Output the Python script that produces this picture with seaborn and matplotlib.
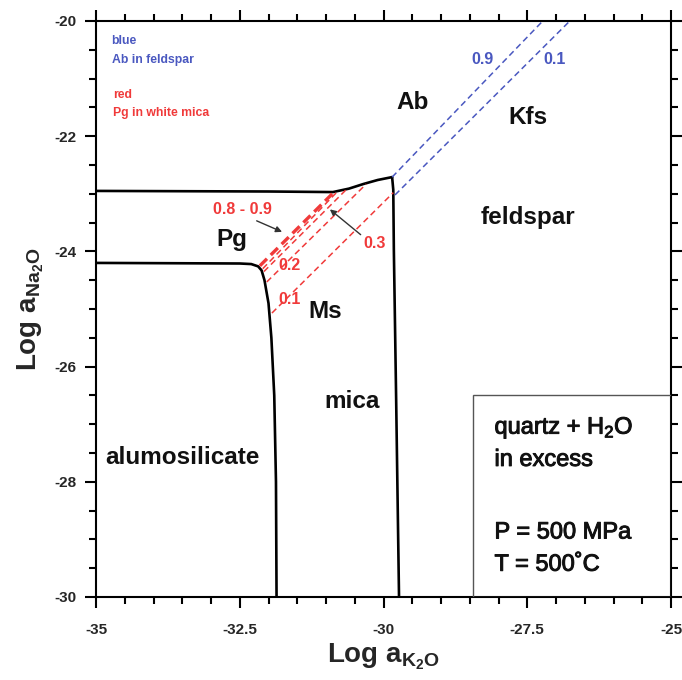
import matplotlib
matplotlib.use("Agg")
import matplotlib.pyplot as plt
import matplotlib.patheffects as pe
from matplotlib.ticker import MultipleLocator
from matplotlib.patches import Rectangle
import seaborn as sns
import pandas as pd

# Phase boundaries (log a_K2O, log a_Na2O)
pg_ab_x = [-35.0, -32.0, -30.88, -30.6, -30.35, -30.1, -29.85]
pg_ab_y = [-22.95, -22.96, -22.97, -22.91, -22.83, -22.76, -22.71]

ms_kfs_x = [-29.85, -29.83, -29.82, -29.78, -29.73]
ms_kfs_y = [-22.71, -22.93, -23.97, -26.57, -30.0]

als_pg_x = [-35.0, -32.5, -32.3, -32.18, -32.12, -32.07, -32.0, -31.95, -31.90, -31.87, -31.86]
als_pg_y = [-24.20, -24.21, -24.22, -24.26, -24.33, -24.50, -24.90, -25.50, -26.50, -28.00, -30.0]

# Pg-in-white-mica isopleths (start, end)
red_labels = ["0.9", "0.8", "0.3", "0.2", "0.1"]
red_x0 = [-32.15, -32.10, -32.08, -32.03, -31.94]
red_y0 = [-24.25, -24.30, -24.35, -24.53, -25.07]
red_x1 = [-30.86, -30.80, -30.63, -30.30, -29.83]
red_y1 = [-22.97, -22.96, -22.91, -22.83, -22.98]

# Ab-in-feldspar isopleths (start, end)
blue_labels = ["0.9", "0.1"]
blue_x0 = [-29.85, -29.80]
blue_y0 = [-22.71, -23.02]
blue_x1 = [-27.23, -26.76]
blue_y1 = [-20.0, -20.0]

x_ticks = [-35, -32.5, -30, -27.5, -25]
y_ticks = [-30, -28, -26, -24, -22, -20]

RED = "#f03a3a"
BLUE = "#4a58c0"

sns.set_theme(style="ticks")
plt.rcParams["font.family"] = ["Liberation Sans", "DejaVu Sans"]
plt.rcParams["axes.unicode_minus"] = False
plt.rcParams["mathtext.fontset"] = "custom"
plt.rcParams["mathtext.rm"] = "Liberation Sans"
plt.rcParams["mathtext.bf"] = "Liberation Sans:bold"
plt.rcParams["mathtext.it"] = "Liberation Sans:italic"

fig = plt.figure(figsize=(6.82, 6.80), dpi=100)
ax = fig.add_axes([96 / 682, 1 - 597 / 680, 575 / 682, 576 / 680])

# black phase boundaries
for bx, by in [(pg_ab_x, pg_ab_y), (ms_kfs_x, ms_kfs_y), (als_pg_x, als_pg_y)]:
    sns.lineplot(x=bx, y=by, sort=False, estimator=None, color="black",
                 linewidth=1.9, ax=ax, legend=False)

# red isopleths
for lab, x0, y0, x1, y1 in zip(red_labels, red_x0, red_y0, red_x1, red_y1):
    df = pd.DataFrame({"x": [x0, x1], "y": [y0, y1]})
    if lab == "0.9":
        lw, dash = 2.4, (3.0, 1.6)
    else:
        lw, dash = 1.1, (4.0, 2.5)
    sns.lineplot(data=df, x="x", y="y", sort=False, estimator=None, color=RED,
                 linewidth=lw, ax=ax, legend=False)
    ax.lines[-1].set_dashes(dash)

# blue isopleths
for lab, x0, y0, x1, y1 in zip(blue_labels, blue_x0, blue_y0, blue_x1, blue_y1):
    df = pd.DataFrame({"x": [x0, x1], "y": [y0, y1]})
    sns.lineplot(data=df, x="x", y="y", sort=False, estimator=None, color=BLUE,
                 linewidth=1.1, ax=ax, legend=False)
    ax.lines[-1].set_dashes((4.0, 2.5))

# isopleth labels
lab_kw = dict(fontweight="bold", fontsize=11.5, ha="center", va="center")
ax.text(-32.46, -23.28, "0.8 - 0.9", color=RED, **lab_kw)
ax.text(-30.15, -23.86, "0.3", color=RED, **lab_kw)
ax.text(-31.63, -24.25, "0.2", color=RED, **lab_kw)
ax.text(-31.63, -24.83, "0.1", color=RED, **lab_kw)
ax.text(-28.27, -20.66, "0.9", color=BLUE, **lab_kw)
ax.text(-27.02, -20.66, "0.1", color=BLUE, **lab_kw)

arrow_kw = dict(arrowstyle="-|>", color="#333333", lw=1.0, mutation_scale=9)
ax.annotate("", xy=(-31.72, -23.68), xytext=(-32.25, -23.45), arrowprops=arrow_kw)
ax.annotate("", xy=(-30.97, -23.24), xytext=(-30.36, -23.74), arrowprops=arrow_kw)

# field names
fld_kw = dict(fontweight="bold", fontsize=17.5, ha="center", va="center", color="#111111")
ax.text(-32.63, -23.80, "Pg", **fld_kw)
ax.text(-31.02, -25.05, "Ms", **fld_kw)
ax.text(-29.50, -21.42, "Ab", **fld_kw)
ax.text(-27.49, -21.68, "Kfs", **fld_kw)
ax.text(-27.49, -23.42, "feldspar", **fld_kw)
ax.text(-30.55, -26.61, "mica", **fld_kw)
ax.text(-33.50, -27.58, "alumosilicate", **fld_kw)

# key in the upper left
key_kw = dict(fontweight="bold", fontsize=8.8, ha="left", va="center")
ax.text(-34.73, -20.35, "blue", color=BLUE, **key_kw)
ax.text(-34.73, -20.68, "Ab in feldspar", color=BLUE, **key_kw)
ax.text(-34.70, -21.29, "red", color=RED, **key_kw)
ax.text(-34.70, -21.60, "Pg in white mica", color=RED, **key_kw)

# conditions box
ax.add_patch(Rectangle((-28.44, -30.0), 3.44, 3.51, fill=False,
                       edgecolor="#555555", linewidth=1.0, zorder=3))
box_kw = dict(fontsize=17, ha="left", va="center", color="#111111",
              path_effects=[pe.withStroke(linewidth=0.7, foreground="#111111")])
ax.text(-28.07, -27.06, r"quartz + H$_2$O", **box_kw)
ax.text(-28.07, -27.62, "in excess", **box_kw)
ax.text(-28.07, -28.88, "P = 500 MPa", **box_kw)
ax.text(-28.07, -29.44, "T = 500˚C", **box_kw)

ax.set_xlim(-35, -25)
ax.set_ylim(-30, -20)
ax.set_xticks(x_ticks)
ax.set_xticklabels([f"{t:g}" for t in x_ticks])
ax.set_yticks(y_ticks)
ax.set_yticklabels([f"{t:g}" for t in y_ticks])
ax.xaxis.set_minor_locator(MultipleLocator(0.5))
ax.yaxis.set_minor_locator(MultipleLocator(0.5))
ax.tick_params(which="both", direction="out", top=True, right=True,
               width=1.5, color="black")
ax.tick_params(which="major", length=8, labelsize=11)
ax.tick_params(axis="x", which="major", pad=11)
ax.tick_params(axis="y", which="major", pad=6)
ax.tick_params(which="minor", length=5)
for lbl in ax.get_xticklabels() + ax.get_yticklabels():
    lbl.set_fontweight("bold")
for sp in ax.spines.values():
    sp.set_linewidth(1.5)
    sp.set_color("black")

ax.set_xlabel(r"$\mathbf{Log\ a_{K_2O}}$", fontsize=20, labelpad=3)
ax.set_ylabel(r"$\mathbf{Log\ a_{Na_2O}}$", fontsize=20, labelpad=6)

fig.savefig("out.png", dpi=100, facecolor="white")
